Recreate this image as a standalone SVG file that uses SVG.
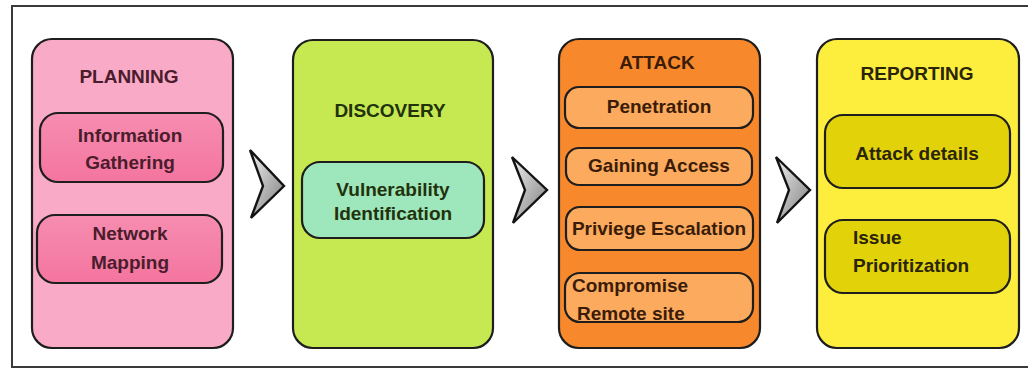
<svg xmlns="http://www.w3.org/2000/svg" width="1028" height="378" viewBox="0 0 1028 378">
<defs>
<linearGradient id="gChev" x1="0" y1="0" x2="1" y2="1">
<stop offset="0" stop-color="#f0f0f0"/><stop offset="0.55" stop-color="#b0b0b0"/><stop offset="1" stop-color="#7e7e7e"/>
</linearGradient>
<linearGradient id="gPink" x1="0" y1="0" x2="0" y2="1">
<stop offset="0" stop-color="#f68db0"/><stop offset="1" stop-color="#f4759f"/>
</linearGradient>
<style>
.frame{fill:#ffffff;stroke:#3a3a3a;stroke-width:2}
.stage{stroke:#1e1e1e;stroke-width:2.2}
.sub{stroke:#1e1e1e;stroke-width:2.2}
.chev{fill:url(#gChev);stroke:#141414;stroke-width:2.4;stroke-linejoin:miter}
text{font-family:"Liberation Sans",Arial,sans-serif;font-weight:bold;font-size:19px;text-anchor:middle;dominant-baseline:central}
.tp{fill:#4a1c2c}.td{fill:#22330c}.ta{fill:#3a1c08}.tr{fill:#2a2408}
.left{text-anchor:start}
</style>
</defs>
<rect class="frame" x="12" y="6" width="1030" height="361"/>

<g id="planning">
<rect class="stage" x="32" y="39" width="201" height="309" rx="20" fill="#f9aac6"/>
<text class="tp" x="129" y="76">PLANNING</text>
</g>
<g id="info-gathering">
<rect class="sub" x="40" y="113" width="183" height="69" rx="18" fill="url(#gPink)"/>
<text class="tp" x="130" y="135">Information</text>
<text class="tp" x="130" y="162">Gathering</text>
</g>
<g id="network-mapping">
<rect class="sub" x="37" y="215" width="185" height="68" rx="18" fill="url(#gPink)"/>
<text class="tp" x="130" y="233">Network</text>
<text class="tp" x="130" y="262">Mapping</text>
</g>

<g id="discovery">
<rect class="stage" x="293" y="40" width="200" height="308" rx="20" fill="#c6e952"/>
<text class="td" x="390" y="110">DISCOVERY</text>
</g>
<g id="vuln-id">
<rect class="sub" x="302" y="162" width="182" height="76" rx="18" fill="#9ee6bc"/>
<text class="td" x="393" y="189">Vulnerability</text>
<text class="td" x="393" y="213">Identification</text>
</g>

<g id="attack">
<rect class="stage" x="559" y="39" width="201" height="309" rx="20" fill="#f8882c"/>
<text class="ta" x="657" y="62">ATTACK</text>
</g>
<g id="penetration">
<rect class="sub" x="565" y="87" width="188" height="41" rx="14" fill="#fbaa5e"/>
<text class="ta" x="659" y="106">Penetration</text>
</g>
<g id="gaining-access">
<rect class="sub" x="566" y="148" width="186" height="37" rx="13" fill="#fbaa5e"/>
<text class="ta" x="659" y="165">Gaining Access</text>
</g>
<g id="privilege-escalation">
<rect class="sub" x="566" y="207" width="187" height="43" rx="14" fill="#fbaa5e"/>
<text class="ta" x="659" y="228">Priviege Escalation</text>
</g>
<g id="compromise">
<rect class="sub" x="565" y="273" width="188" height="49" rx="15" fill="#fbaa5e"/>
<text class="ta left" x="572" y="285">Compromise</text>
<text class="ta left" x="577" y="313">Remote site</text>
</g>

<g id="reporting">
<rect class="stage" x="817" y="39" width="202" height="309" rx="20" fill="#fdee3e"/>
<text class="tr" x="917" y="73">REPORTING</text>
</g>
<g id="attack-details">
<rect class="sub" x="825" y="115" width="185" height="73" rx="18" fill="#e2d20a"/>
<text class="tr" x="917" y="153">Attack details</text>
</g>
<g id="issue-prioritization">
<rect class="sub" x="825" y="220" width="185" height="73" rx="18" fill="#e2d20a"/>
<text class="tr left" x="853" y="237">Issue</text>
<text class="tr left" x="853" y="265">Prioritization</text>
</g>

<g id="connectors">
<polygon class="chev" points="250,150 284,186 251,218 263,186"/>
<polygon class="chev" points="512,157 547,190 513,223 525,190"/>
<polygon class="chev" points="776,157 810,190 777,223 789,190"/>
</g>
</svg>
